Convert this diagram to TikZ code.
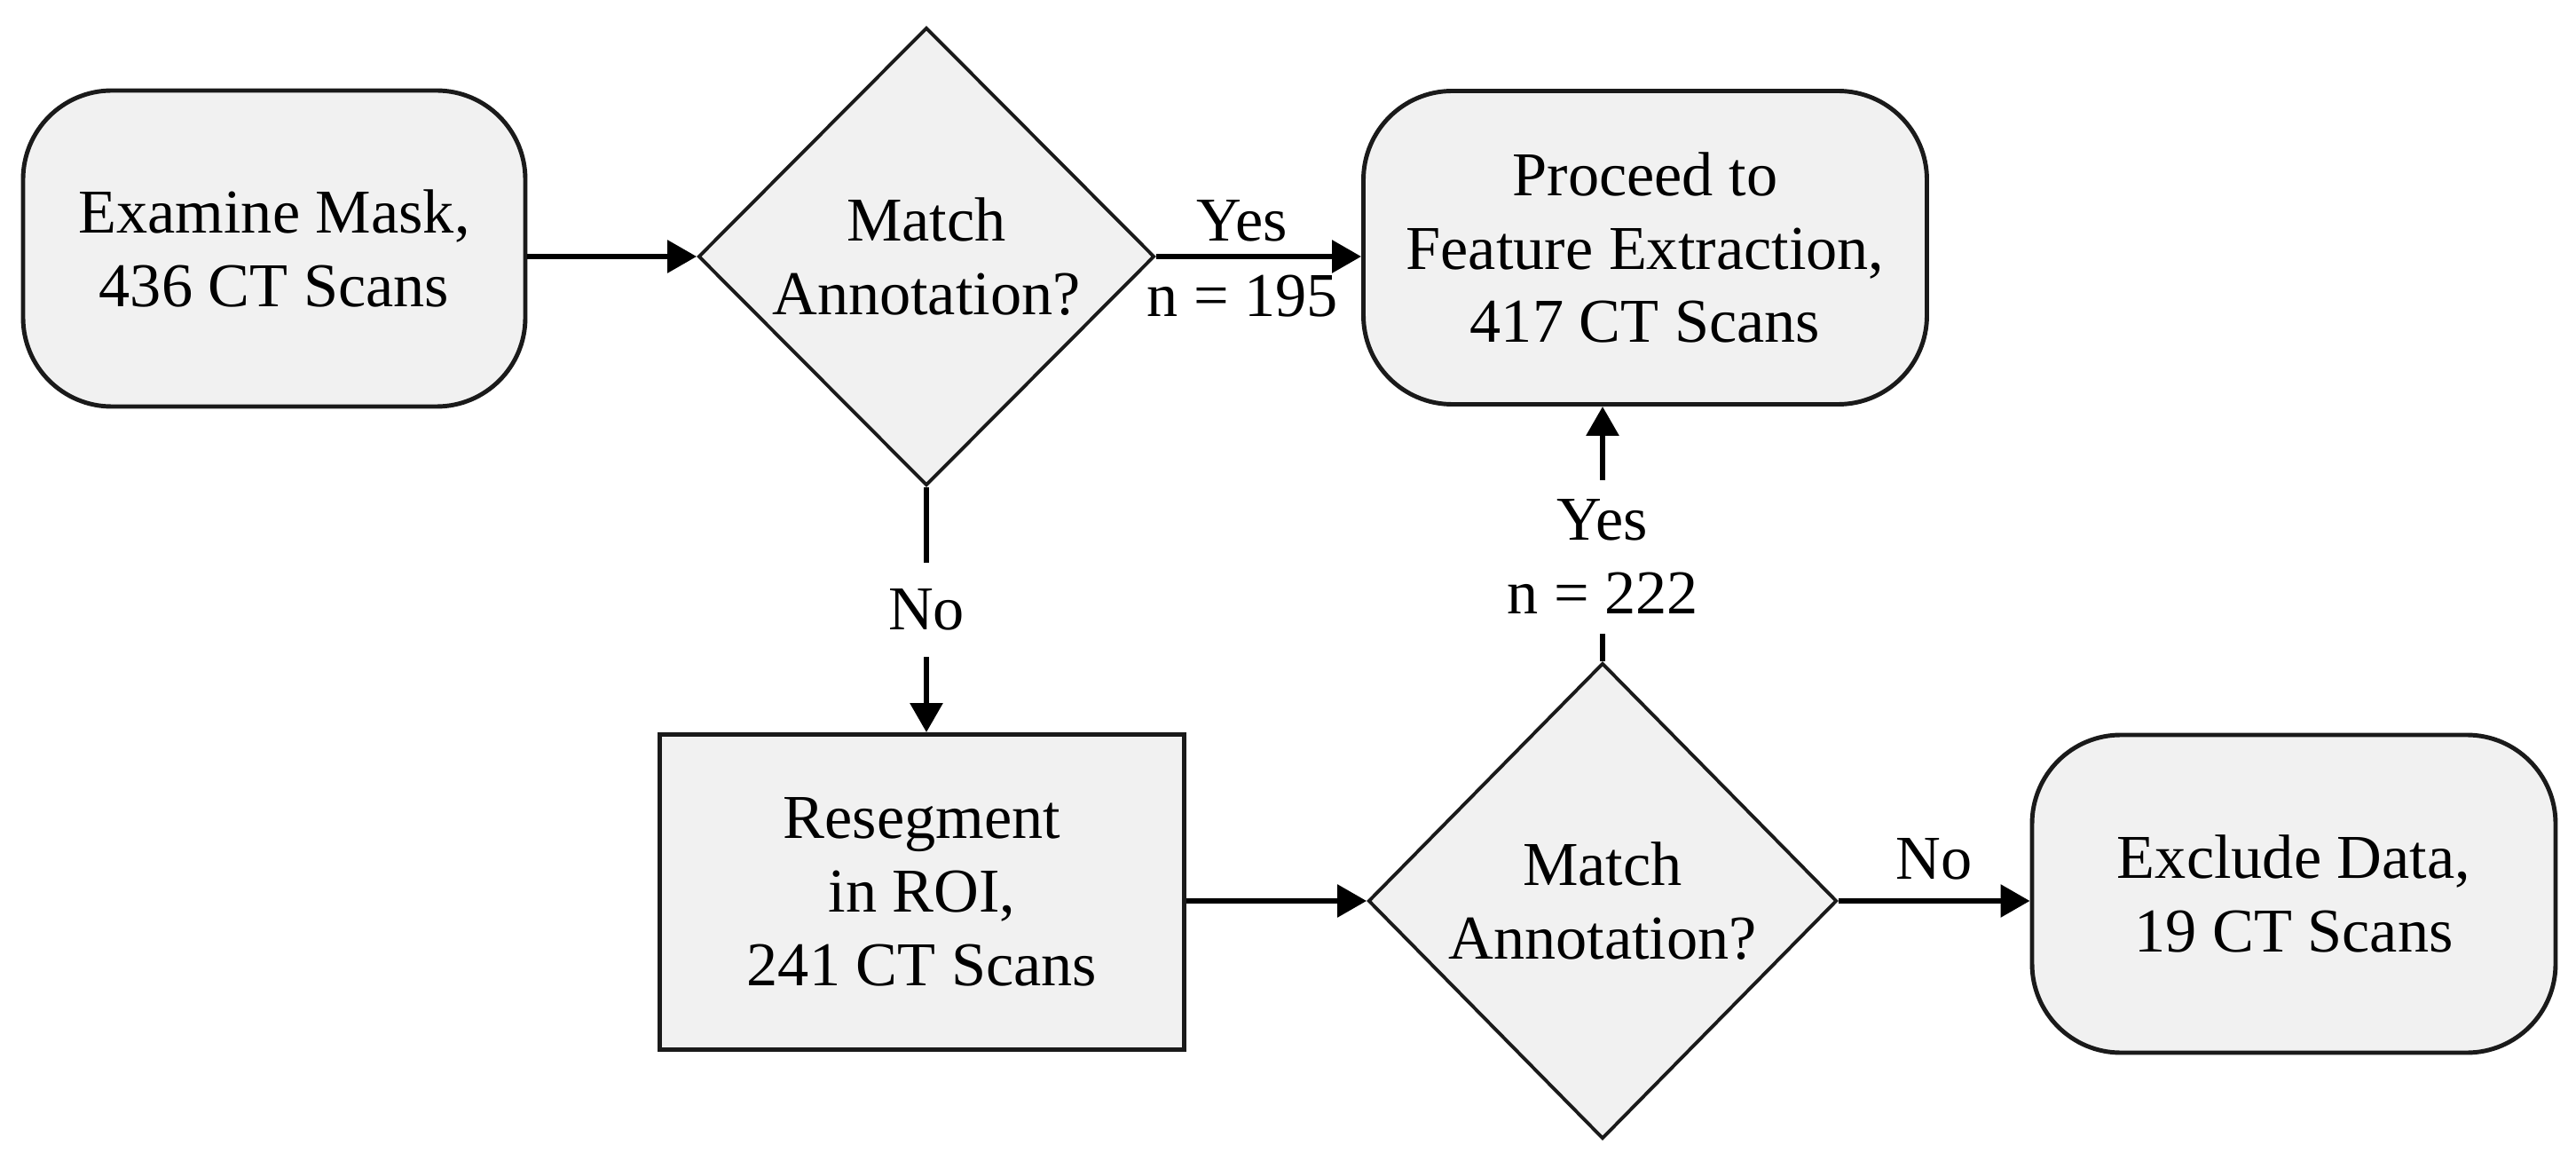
\documentclass[tikz,border=0pt]{standalone}
\usepackage{fontspec}
\setmainfont{Liberation Serif}
\usetikzlibrary{arrows.meta, positioning, shapes.geometric, calc}
\definecolor{boxfill}{HTML}{F1F1F1}
\definecolor{boxline}{HTML}{1A1A1A}

\begin{document}
\begin{tikzpicture}[
  every node/.style={font=\fontsize{20}{23.6}\selectfont},
  term/.style={rectangle, rounded corners=1.0cm, draw=boxline, fill=boxfill, line width=1.4pt, align=center},
  proc/.style={rectangle, draw=boxline, fill=boxfill, line width=1.4pt, align=center},
  decision/.style={diamond, draw=boxline, fill=boxfill, line width=1.1pt, inner sep=0pt, align=center},
  flow/.style={-{Triangle[length=0.33cm, width=0.36cm]}, line width=1.7pt},
  lbl/.style={fill=white, inner xsep=2pt, align=center},
]
\useasboundingbox (0,0) rectangle (29.03,-13.08);

% Top row
\node[term, minimum width=5.66cm, minimum height=3.56cm] (examine) at (3.09, -2.80) {Examine Mask,\\436 CT Scans};
\node[decision, minimum width=5.14cm, minimum height=5.16cm] (match1) at (10.44, -2.89) {Match\\Annotation?};
\node[term, minimum width=6.35cm, minimum height=3.53cm] (proceed) at (18.54, -2.79) {Proceed to\\Feature Extraction,\\417 CT Scans};

% Bottom row
\node[proc, minimum width=5.91cm, minimum height=3.55cm] (reseg) at (10.39, -10.05) {Resegment\\in ROI,\\241 CT Scans};
\node[decision, minimum width=5.28cm, minimum height=5.36cm] (match2) at (18.06, -10.15) {Match\\Annotation?};
\node[term, minimum width=5.90cm, minimum height=3.58cm] (exclude) at (25.85, -10.07) {Exclude Data,\\19 CT Scans};

% Connectors
\draw[flow] (examine.east |- match1.west) -- (match1.west);
\draw[flow] (match1.east) -- (proceed.west |- match1.east)
  node[pos=0.42, above, inner sep=4pt] (yes1) {Yes}
  node[pos=0.42, below, inner sep=5pt] (n1) {n = 195};
\draw[flow] (match1.south) -- (match1.south |- reseg.north)
  node[midway, lbl, inner ysep=0.3cm] (no1) {No};
\draw[flow] (reseg.east |- match2.west) -- (match2.west);
\draw[flow] (match2.north) -- (match2.north |- proceed.south)
  node[pos=0.41, lbl, inner ysep=0.22cm] (yes2) {Yes\\n = 222};
\draw[flow] (match2.east) -- (exclude.west |- match2.east)
  node[midway, above, inner sep=6pt] (no2) {No};

\end{tikzpicture}
\end{document}
